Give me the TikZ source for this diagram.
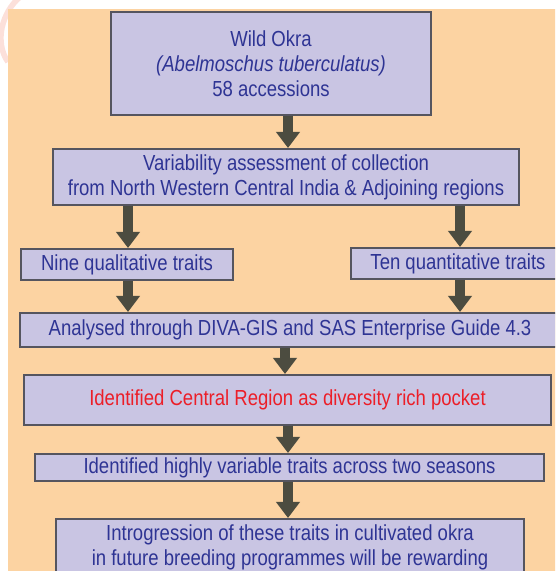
\documentclass[tikz,border=0pt]{standalone}
\usepackage{fontspec}
\setmainfont{Liberation Sans}[FakeStretch=0.85]
\usepackage{xcolor}
\usepackage{tikz}
\usetikzlibrary{arrows.meta, calc}
\definecolor{peach}{RGB}{252,211,162}
\definecolor{lavender}{RGB}{201,197,227}
\definecolor{boxedge}{RGB}{85,85,95}
\definecolor{inkblue}{RGB}{46,52,148}
\definecolor{inkred}{RGB}{236,30,40}
\definecolor{arrowgray}{RGB}{76,76,64}
\definecolor{blush}{RGB}{252,224,218}
\tikzset{box/.style={rectangle, draw=boxedge, line width=1.4pt, fill=lavender, text=inkblue,
    align=center, inner sep=0pt, font=\fontsize{15.5}{17.8}\selectfont},
  flow/.style={draw=arrowgray, line width=7pt, -{Triangle[width=16.5pt, length=11.5pt]}}}

\begin{document}
\begin{tikzpicture}[x=0.025cm, y=-0.025cm]
%\draw[help lines] (0,0) grid (555,571);
\useasboundingbox (0,0) rectangle (555,571);
\clip (0,0) rectangle (555,571);
\draw[blush, line width=4pt] (20,-3) .. controls (2,12) and (-6,42) .. (8,62);
\fill[peach] (8,9) rectangle (565,580);

\path (271,63.5) node(wild) [box, minimum width=8cm, minimum height=2.575cm] {Wild Okra\\ \textit{(Abelmoschus tuberculatus)}\\ 58 accessions}
(286,177) node(survey) [box, minimum width=11.65cm, minimum height=1.4cm] {Variability assessment of collection\\ from North Western Central India \& Adjoining regions}
(127,264.5) node(nine) [box, minimum width=5.3cm, minimum height=0.775cm] {Nine qualitative traits}
(458,263.5) node(ten) [box, minimum width=5.35cm, minimum height=0.775cm] {Ten quantitative traits}
(290,330) node(analysed) [box, minimum width=13.5cm, minimum height=0.85cm] {Analysed through DIVA-GIS and SAS Enterprise Guide 4.3}
(287.5,400) node(central) [box, text=inkred, minimum width=13.175cm, minimum height=1.25cm] {Identified Central Region as diversity rich pocket}
(289.5,467.5) node(seasons) [box, minimum width=12.725cm, minimum height=0.675cm] {Identified highly variable traits across two seasons}
(290,518) node(breeding) [box, anchor=north, minimum width=11.7cm, inner ysep=4pt, text depth=22pt] {Introgression of these traits in cultivated okra\\ in future breeding programmes will be rewarding};

% arrow columns
\coordinate (midcol) at (288,0);
\coordinate (leftcol) at (128,0);
\coordinate (rightcol) at (460,0);
\coordinate (midcolb) at (285,0);

\draw[flow] (wild.south -| midcol) -- (survey.north -| midcol);
\draw[flow] (survey.south -| leftcol) -- (nine.north -| leftcol);
\draw[flow] (survey.south -| rightcol) -- (ten.north -| rightcol);
\draw[flow] (nine.south -| leftcol) -- (analysed.north -| leftcol);
\draw[flow] (ten.south -| rightcol) -- (analysed.north -| rightcol);
\draw[flow] (analysed.south -| midcolb) -- (central.north -| midcolb);
\draw[flow] (central.south -| midcol) -- (seasons.north -| midcol);
\draw[flow] (seasons.south -| midcol) -- (breeding.north -| midcol);
\end{tikzpicture}
\end{document}
